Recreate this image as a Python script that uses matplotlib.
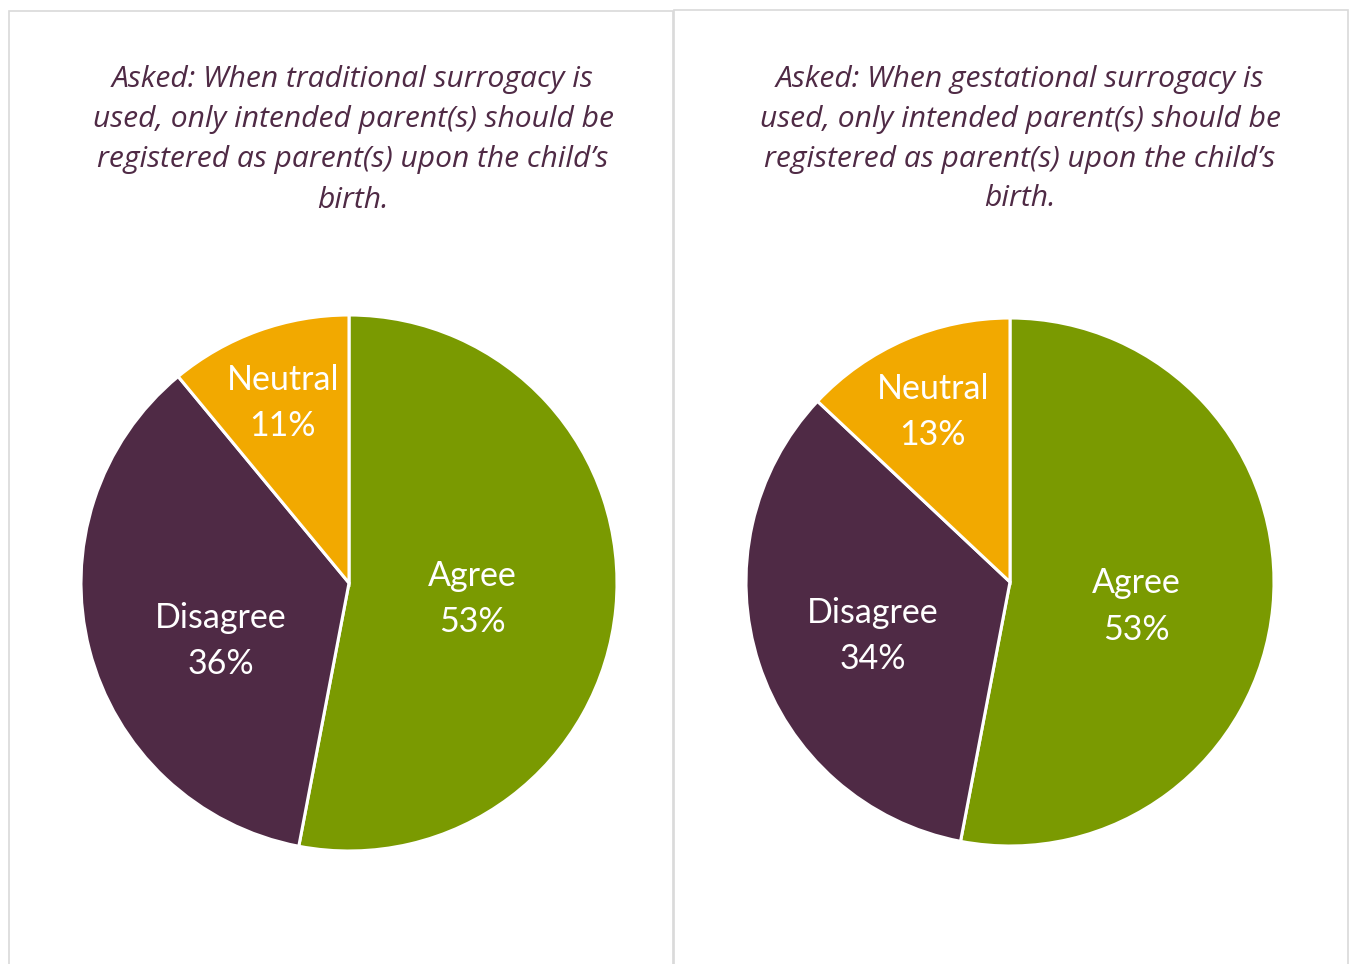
import matplotlib
matplotlib.use("Agg")
import matplotlib.pyplot as plt
from matplotlib.patches import Rectangle
import numpy as np

# Survey responses
categories = ["Agree", "Disagree", "Neutral"]
traditional_pct = [53, 36, 11]
gestational_pct = [53, 34, 13]

titles = [
    ["Asked: When traditional surrogacy is",
     "used, only intended parent(s) should be",
     "registered as parent(s) upon the child\u2019s",
     "birth."],
    ["Asked: When gestational surrogacy is",
     "used, only intended parent(s) should be",
     "registered as parent(s) upon the child\u2019s",
     "birth."],
]

colors = ["#7a9a01", "#4f2a45", "#f2a900"]
title_color = "#4f2a45"

W, H = 1349, 964
fig = plt.figure(figsize=(W / 100, H / 100), dpi=100)
fig.patch.set_facecolor("white")
plt.rcParams["font.family"] = ["Lato", "DejaVu Sans"]


def px_rect(x0, y0, w, h):
    """Figure-fraction rectangle from pixel coords measured from the top-left."""
    return [x0 / W, 1 - (y0 + h) / H, w / W, h / H]


# panel frames (open at the bottom edge)
for (x0, x1, top) in [(8.5, 673.0, 11), (673.5, 1347.5, 10)]:
    fig.add_artist(Rectangle((x0 / W, -0.05), (x1 - x0) / W, 1 - top / H + 0.05,
                             transform=fig.transFigure, fill=False,
                             edgecolor="#d9d9d9", linewidth=1.2))

# label placement per slice: (radius fraction, angular shift from wedge middle in degrees)
panels = [
    dict(values=traditional_pct, cx=349, cy=583, r=268, tx=353, ty=80,
         label_pos=[(0.464, -2.0), (0.524, 10.0), (0.715, 0.4)]),
    dict(values=gestational_pct, cx=1010, cy=582, r=264, tx=1020, ty=79,
         label_pos=[(0.489, -5.6), (0.557, 3.5), (0.708, 1.0)]),
]

for p, title_lines in zip(panels, titles):
    ax = fig.add_axes(px_rect(p["cx"] - p["r"], p["cy"] - p["r"], 2 * p["r"], 2 * p["r"]))
    wedges, _ = ax.pie(p["values"], colors=colors, startangle=90, counterclock=False,
                       radius=1.0,
                       wedgeprops=dict(edgecolor="white", linewidth=2.2))
    ax.set_xlim(-1, 1)
    ax.set_ylim(-1, 1)
    ax.set_aspect("equal")
    ax.axis("off")
    for w, cat, val, (rr, dth) in zip(wedges, categories, p["values"], p["label_pos"]):
        mid = np.deg2rad((w.theta1 + w.theta2) / 2 + dth)
        x, y = rr * np.cos(mid), rr * np.sin(mid)
        ax.text(x, y, f"{cat}\n{val}%", ha="center", va="center", color="white",
                fontsize=24.5, linespacing=1.55)
    for i, line in enumerate(title_lines):
        fig.text(p["tx"] / W, 1 - (p["ty"] + 40 * i) / H, line, ha="center", va="center",
                 color=title_color, fontsize=21.6, style="italic",
                 family=["Open Sans", "DejaVu Sans"])

fig.savefig("out.png", dpi=100, facecolor="white")
